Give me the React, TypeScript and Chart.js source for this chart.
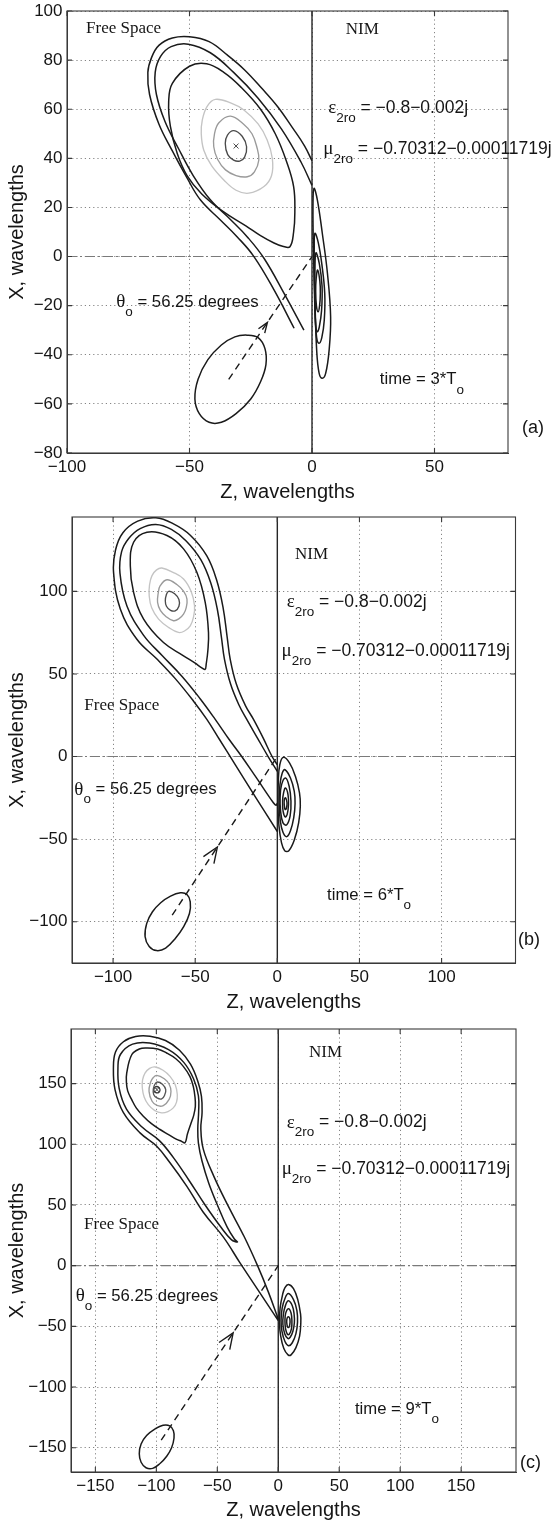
import React, { useEffect, useRef } from 'react';
import { Chart, registerables } from 'chart.js';

Chart.register(...registerables);

type P = [number, number];

const SANS = '"Liberation Sans", Arial, Helvetica, sans-serif';
const SERIF = '"Liberation Serif", "Times New Roman", serif';
const INK = '#1a1a1a';

// ---------------- panel (a) ----------------
const A_X_RANGE: P = [-100, 80];
const A_Y_RANGE: P = [-80, 100];
const A_X_TICKS = [-100, -50, 0, 50];
const A_Y_TICKS = [-80, -60, -40, -20, 0, 20, 40, 60, 80, 100];

const A_OUTER1: P[] = [[0,39],[-3,45],[-8,52.5],[-14,61],[-20.5,68.5],[-27.5,76],[-34.5,82],[-42,87.5],[-50,89.5],[-57,89],[-62.5,86],[-65.5,81],[-67,75],[-66.3,66],[-62.5,54],[-57,43],[-51,32],[-45.5,23],[-37.5,15],[-30.5,8],[-23.7,0],[-15.5,-13.6],[-7.3,-29.2]];
const A_OUTER2: P[] = [[0,29],[-4.5,38.5],[-12.5,52],[-22,64.5],[-32,75],[-41.5,83],[-50.5,86.5],[-57.5,85.5],[-61.8,81.5],[-64,75],[-63.5,66],[-60,55],[-54.5,44],[-48.5,33],[-41.4,23],[-33.2,15],[-26.4,8],[-19.6,-0.7],[-11.4,-15],[-3.3,-30]];
const A_INNER: P[] = [[-57,70.5],[-50,77.5],[-43,78.5],[-36,75],[-29,69],[-21,60],[-15,50],[-10.5,39],[-7.5,28.5],[-7,18],[-7.5,10],[-9,4],[-12,4.2],[-15.5,5.5],[-21,8.5],[-27,12.5],[-36.5,18.5],[-45,25.5],[-51,33],[-55,42],[-57.8,53],[-58.5,63]];
const A_GRAY1: P[] = [[-39.4,64],[-33,62.5],[-27.8,59.7],[-22,54],[-18.3,47.5],[-16.2,40],[-16.5,33],[-19.6,28.5],[-25.8,25.8],[-31,27],[-36,31.2],[-41,37],[-44.2,43.4],[-45.2,50],[-44.8,55.5],[-42.8,61.2]];
const A_GRAY2: P[] = [[-33.3,57.2],[-28,54],[-24.5,50],[-22.5,44.5],[-21.7,39.3],[-23.5,34.5],[-26.4,32.5],[-31,33],[-35.3,35.3],[-38.5,39.5],[-40.1,44.7],[-39.8,50],[-38,54.5]];
const A_GRAY3: P[] = [[-31.9,51.3],[-28.5,49],[-26.7,44.7],[-27.5,40.5],[-29.5,38.9],[-32,39.3],[-34.4,41.5],[-35.4,46],[-34.5,49.5]];
const A_PEAK: P[] = [[-31, 45]];
const A_NIM1: P[] = [[0.8,27.8],[2.2,23],[4.2,9.5],[6.3,-6.8],[7.6,-24.5],[7,-38],[5.6,-47.5],[4.2,-49.6],[2.9,-47.5],[1.9,-38],[1.2,-17.7],[0.6,2.7],[0.4,20.3]];
const A_NIM2: P[] = [[1.2,9.5],[2.6,5.5],[4,-3],[5.2,-15],[5,-26],[4,-33],[2.9,-35.3],[1.9,-33],[1.3,-24],[0.9,-10],[0.9,3]];
const A_NIM3: P[] = [[1.6,1.5],[3,-3],[4.1,-12],[3.9,-22],[3,-28.5],[2.2,-30.6],[1.5,-28],[1.2,-18],[1.2,-6]];
const A_NIM4: P[] = [[2.3,-5.5],[3.2,-10],[3.4,-15],[3.1,-20],[2.5,-22.5],[1.8,-20],[1.5,-14],[1.7,-9]];
const A_BEAM: P[] = [[-26.5,-32],[-22,-33],[-19.2,-37.5],[-18.8,-44],[-21,-51],[-25,-58],[-31,-64],[-37,-67.5],[-42,-67.5],[-46,-64],[-47.8,-58],[-46.5,-50],[-42.5,-42],[-37,-36],[-31.5,-32.7]];
const A_PATH: P[] = [[-34,-50],[0,0]];
const A_HEAD: P[] = [[-19.3,-31.2],[-18.2,-26.8],[-21.85,-29.4]];
const A_IFACE: P[] = [[0,-80],[0,100]];
const A_ZERO: P[] = [[-100,0],[80,0]];

// ---------------- panel (b) ----------------
const B_RANGE: P = [-125, 145];
const B_TICKS = [-100, -50, 0, 50, 100];

const B_OUTER1: P[] = [[0,-45.4],[-13,-25],[-26.5,-3.5],[-35.2,10.3],[-42.9,22.5],[-51,33.5],[-62,47],[-73.3,59],[-85.5,71],[-95.6,89.3],[-99.7,111.5],[-98.5,125],[-94,135.5],[-85,142.5],[-74,144.5],[-63.5,141],[-53,134],[-43,121.6],[-37,107],[-33,90],[-30.5,72],[-28.7,59],[-25,44],[-19.5,31],[-14.5,22.5],[-8.5,11],[-3.2,0],[0,-5]];
const B_OUTER2: P[] = [[0,-28.3],[-0.8,-29.5],[-2.4,-28],[-13,-12.5],[-22,0.5],[-29.3,10.3],[-37.8,22.5],[-47,35],[-58,48.5],[-70,61],[-81.5,73.5],[-91.5,91],[-95.8,111],[-94.8,124],[-90.5,132],[-83.5,138],[-74,140.5],[-64.5,137.5],[-55.5,130.5],[-46.5,119],[-40.5,105],[-36.5,89],[-34,72],[-32.2,59],[-28.5,44],[-23.5,31.5],[-18.6,22.5],[-12,11],[-5.6,0],[0,-9]];
const B_INNER: P[] = [[-87.5,129.7],[-79.4,135.8],[-67.2,133.8],[-57.1,125.7],[-49,111.5],[-43.9,93.3],[-41.9,75],[-42.3,64],[-43.3,56],[-44,52.8],[-46.5,54],[-50,56.5],[-57.1,61],[-69.3,69],[-81.4,83.2],[-87.5,99.4],[-89.5,115.5]];
const B_GRAY1: P[] = [[-70.3,114.1],[-63.5,111.5],[-57.1,107.5],[-52.5,100],[-50.4,91.3],[-51,84.5],[-53,79.1],[-56.5,76],[-60.2,75.1],[-66,78],[-72.3,83.2],[-76.5,90],[-78,97.3],[-77.8,104],[-76.3,109.5],[-73.5,113]];
const B_GRAY2: P[] = [[-67.2,107],[-61,104],[-57,100],[-55,95.3],[-55.5,90],[-57.1,86.2],[-60,83.3],[-63.2,82.2],[-67.5,84.5],[-71.2,88.5],[-72.9,93.3],[-72.5,99],[-71.3,103.4]];
const B_GRAY3: P[] = [[-66.2,100],[-62.5,98.5],[-59.9,95],[-59.9,91],[-62.2,88.2],[-65,88.5],[-67.5,91],[-68.2,94.3],[-67.6,97.8]];
const B_NIM1: P[] = [[3.7,-0.5],[7.5,-4],[11,-12],[13.5,-22],[14,-30],[13,-40],[10.5,-50],[7,-57],[4.5,-57],[2.5,-52],[1,-42],[0.4,-30],[0.6,-15],[1.5,-5]];
const B_NIM2: P[] = [[4.7,-8],[8,-13],[10.3,-21],[10.8,-28.5],[10,-37],[8,-45],[5.8,-48.5],[3.5,-46],[1.8,-39],[1.1,-28],[1.6,-17],[3,-10]];
const B_NIM3: P[] = [[5,-13],[7.2,-18],[8.3,-27],[7.8,-36],[5.6,-41.5],[3.4,-40],[2,-33],[1.7,-25],[2.6,-17]];
const B_NIM4: P[] = [[5,-19],[6.5,-23],[6.8,-29],[6,-35],[4.8,-36.5],[3.5,-33],[3.2,-27],[3.8,-22]];
const B_NIM5: P[] = [[5,-25],[5.9,-28],[5.5,-31.5],[4.7,-32],[4.2,-29],[4.3,-26]];
const B_BEAM: P[] = [[-59,-82.5],[-55,-83.5],[-53,-88],[-53.5,-95],[-57,-103],[-62,-110],[-68,-116],[-73.5,-117.5],[-78,-115],[-80.5,-109],[-79.5,-101],[-76,-94],[-71,-88.5],[-65,-84.5]];
const B_PATH: P[] = [[-64,-96],[0,0]];
const B_HEAD: P[] = [[-38.6,-64.9],[-36.5,-54.8],[-45,-60.6]];
const B_IFACE: P[] = [[0,-125],[0,145]];
const B_ZERO: P[] = [[-125,0],[145,0]];

// ---------------- panel (c) ----------------
const C_RANGE: P = [-170, 195];
const C_TICKS = [-150, -100, -50, 0, 50, 100, 150];

const C_OUTER1: P[] = [[0,-45.3],[-16,-21],[-31.5,2.5],[-45,23.5],[-61.5,44],[-75.1,65.6],[-88.8,84.8],[-99.7,98.4],[-113.4,109.4],[-127,126],[-133.9,145],[-135.2,163],[-133.5,176],[-127,184.5],[-117,188.8],[-105.2,189],[-92.5,185.5],[-81,177.5],[-72,166],[-66,152],[-63,139.5],[-62.5,126],[-63.5,113],[-61.5,96],[-53,74],[-41,49],[-28,24],[-17,0],[-8,-22],[0,-44]];
const C_OUTER2: P[] = [[-33.5,19.5],[-36,22],[-42,32],[-49.5,49],[-57,68],[-62.5,86],[-65.5,101],[-66,113],[-65.3,127],[-65.5,140],[-69.5,154],[-77.5,167.5],[-90,178],[-105.5,183.5],[-119.5,182.5],[-129.5,174],[-131.5,163],[-130.5,146],[-124.5,129],[-111.5,114],[-97.5,103],[-86,89],[-73,70],[-60,50],[-46.5,31],[-38.5,21.5]];
const C_INNER: P[] = [[-124.3,158.7],[-120.2,173.8],[-114,178.5],[-107.9,179.3],[-99,178.5],[-91.5,175.2],[-84,170.5],[-77.9,164.2],[-72.5,156],[-69.7,147.7],[-68.3,139],[-68,131.3],[-69.3,124],[-71.5,117.5],[-74.5,108.5],[-76.5,101.2],[-79.5,102.5],[-83.3,104],[-90,108],[-97,112.2],[-104,117],[-110.7,123.1],[-116.5,130],[-120.2,136.8],[-123.5,144],[-124.5,150.5]];
const C_GRAY1: P[] = [[-101,163.7],[-94.5,161],[-88.8,156],[-84.5,149],[-82.8,141],[-83.5,134.5],[-86.1,130],[-90.5,127],[-95.6,125.9],[-101.5,128],[-106.6,132.7],[-110,139],[-111.5,146.4],[-111.3,153],[-109.3,158.7],[-105.5,162.5]];
const C_GRAY2: P[] = [[-99.7,156.8],[-93.5,154],[-89.5,149.5],[-88,143.6],[-89.5,137],[-94.3,131.9],[-99.5,132],[-103.5,135.5],[-106,143.6],[-104.8,151],[-102.5,155]];
const C_GRAY3: P[] = [[-99.2,151.3],[-95,149.5],[-92.3,145],[-93.2,140.5],[-95.6,137.4],[-99.5,138.2],[-102.2,141],[-102.5,145.5],[-101.2,149.5]];
const C_GRAY4: P[] = [[-99.5,147.6],[-97.6,146.5],[-97,144.5],[-98,142.8],[-99.8,142.4],[-101.7,143.5],[-102,145.5],[-101,147.2]];
const C_PEAK: P[] = [[-99.5, 145]];
const C_NIM1: P[] = [[8.5,-15.5],[12.5,-19],[16,-28],[18.3,-40],[18.5,-47],[17.5,-58],[14.5,-67.5],[10.5,-73.5],[8,-73.5],[4.5,-68],[2,-58],[1,-47],[1.5,-35],[3.5,-24],[5.5,-18]];
const C_NIM2: P[] = [[8.3,-23],[12.5,-28],[15.3,-37],[15.8,-46.5],[14.5,-56],[11.5,-63.5],[8.5,-66],[5.5,-62.5],[3,-54],[2.3,-45],[3.2,-35],[5.5,-27]];
const C_NIM3: P[] = [[8.3,-29],[11.5,-33],[13,-40],[13.2,-47],[12,-54],[9.8,-59],[7.8,-60],[5.3,-56],[3.8,-48.5],[4.2,-40],[6,-32.5]];
const C_NIM4: P[] = [[8.3,-35.5],[10.5,-39],[11.2,-46],[10.8,-52],[9,-56.5],[7.5,-56.5],[6,-52],[5.5,-46],[6,-39.5]];
const C_NIM5: P[] = [[8.3,-42],[9.6,-44.5],[9.4,-49],[8.3,-51],[7.2,-49],[7,-44.5]];
const C_BEAM: P[] = [[-89,-132],[-86,-136],[-85.5,-142],[-87.5,-150],[-91.5,-157],[-97,-163],[-103,-167],[-108.5,-166.5],[-112.5,-162],[-114,-155],[-112.5,-147],[-108,-140],[-101,-134.5],[-94.5,-131.5]];
const C_PATH: P[] = [[-96,-143.7],[0,0]];
const C_HEAD: P[] = [[-39.8,-69.1],[-37,-55.4],[-48.6,-63.3]];
const C_IFACE: P[] = [[0,-170],[0,195]];
const C_ZERO: P[] = [[-170,0],[195,0]];

// ---------------- text ----------------
type Kind = 'txt' | 'sym' | 'sub' | 'rom' | 'sml';
type Part = [string, Kind];
interface Note { x: number; y: number; parts: Part[] }

const EPS: Part[] = [['ε', 'sym'], ['2ro', 'sub'], [' = −0.8−0.002j', 'txt']];
const MU: Part[] = [['μ', 'sym'], ['2ro', 'sub'], [' = −0.70312−0.00011719j', 'txt']];
const THETA: Part[] = [['θ', 'sym'], ['o', 'sub'], [' = 56.25 degrees', 'sml']];

const A_NOTES: Note[] = [
  { x: -92.2, y: 93, parts: [['Free Space', 'rom']] },
  { x: 13.8, y: 92.5, parts: [['NIM', 'rom']] },
  { x: 6.6, y: 60.5, parts: EPS },
  { x: 4.6, y: 43.8, parts: MU },
  { x: -79.9, y: -18.5, parts: THETA },
  { x: 27.7, y: -50.2, parts: [['time = 3*T', 'sml'], ['o', 'sub']] },
];
const B_NOTES: Note[] = [
  { x: -117.5, y: 31, parts: [['Free Space', 'rom']] },
  { x: 10.8, y: 122, parts: [['NIM', 'rom']] },
  { x: 5.7, y: 93.5, parts: EPS },
  { x: 2.6, y: 63.8, parts: MU },
  { x: -123.6, y: -20, parts: THETA },
  { x: 30.3, y: -83.8, parts: [['time = 6*T', 'sml'], ['o', 'sub']] },
];
const C_NOTES: Note[] = [
  { x: -159.3, y: 34.1, parts: [['Free Space', 'rom']] },
  { x: 25.2, y: 175.4, parts: [['NIM', 'rom']] },
  { x: 6.9, y: 117.9, parts: EPS },
  { x: 2.8, y: 79.3, parts: MU },
  { x: -166.2, y: -25.1, parts: THETA },
  { x: 62.9, y: -118.7, parts: [['time = 9*T', 'sml'], ['o', 'sub']] },
];

interface Panel {
  top: number; h: number;
  area: { left: number; right: number; top: number; bottom: number };
  xRange: P; yRange: P; xTicks: number[]; yTicks: number[];
  grays: [P[], string][]; loops: P[][]; opens: P[][];
  beam: P[]; path: P[]; head: P[]; iface: P[]; zero: P[]; peak?: P[];
  notes: Note[]; tag: { text: string; x: number; y: number }; titlePad: number;
}

const PANELS: Panel[] = [
  {
    top: 0, h: 510, area: { left: 67, right: 508, top: 11, bottom: 453 },
    xRange: A_X_RANGE, yRange: A_Y_RANGE, xTicks: A_X_TICKS, yTicks: A_Y_TICKS,
    grays: [[A_GRAY1, '#c4c4c4'], [A_GRAY2, '#9a9a9a'], [A_GRAY3, '#4a4a4a']],
    loops: [A_INNER, A_NIM1, A_NIM2, A_NIM3, A_NIM4], opens: [A_OUTER1, A_OUTER2],
    beam: A_BEAM, path: A_PATH, head: A_HEAD, iface: A_IFACE, zero: A_ZERO, peak: A_PEAK,
    notes: A_NOTES, tag: { text: '(a)', x: 522, y: 428 }, titlePad: 6,
  },
  {
    top: 510, h: 510, area: { left: 72, right: 515.5, top: 7, bottom: 453 },
    xRange: B_RANGE, yRange: B_RANGE, xTicks: B_TICKS, yTicks: B_TICKS,
    grays: [[B_GRAY1, '#c4c4c4'], [B_GRAY2, '#9a9a9a'], [B_GRAY3, '#4a4a4a']],
    loops: [B_INNER, B_NIM1, B_NIM2, B_NIM3, B_NIM4, B_NIM5], opens: [B_OUTER1, B_OUTER2],
    beam: B_BEAM, path: B_PATH, head: B_HEAD, iface: B_IFACE, zero: B_ZERO,
    notes: B_NOTES, tag: { text: '(b)', x: 518, y: 430 }, titlePad: 6,
  },
  {
    top: 1020, h: 506, area: { left: 71, right: 516, top: 9, bottom: 452 },
    xRange: C_RANGE, yRange: C_RANGE, xTicks: C_TICKS, yTicks: C_TICKS,
    grays: [[C_GRAY1, '#c4c4c4'], [C_GRAY2, '#9a9a9a'], [C_GRAY3, '#555555'], [C_GRAY4, '#3a3a3a']],
    loops: [C_INNER, C_OUTER2, C_NIM1, C_NIM2, C_NIM3, C_NIM4, C_NIM5], opens: [C_OUTER1],
    beam: C_BEAM, path: C_PATH, head: C_HEAD, iface: C_IFACE, zero: C_ZERO, peak: C_PEAK,
    notes: C_NOTES, tag: { text: '(c)', x: 520, y: 443 }, titlePad: 4,
  },
];

const toXY = (pts: P[]) => pts.map(([x, y]) => ({ x, y }));

function openDs(pts: P[], color: string, width: number, extra: any = {}) {
  return { data: toXY(pts), borderColor: color, borderWidth: width, showLine: true, pointRadius: 0, pointHoverRadius: 0, tension: 0.4, fill: false, ...extra };
}

function loopDs(pts: P[], color: string, width: number) {
  const n = pts.length;
  const wrapped: P[] = [pts[n - 1], ...pts, pts[0], pts[1]];
  const last = wrapped.length - 1;
  return {
    ...openDs(wrapped, color, width),
    segment: {
      borderColor: (ctx: any) => (ctx.p0DataIndex === 0 || ctx.p1DataIndex === last ? 'rgba(0,0,0,0)' : undefined),
    },
  };
}

function drawNote(ctx: CanvasRenderingContext2D, px: number, py: number, parts: Part[]) {
  let x = px;
  for (const [t, k] of parts) {
    let dy = 0;
    if (k === 'txt') ctx.font = `17.5px ${SANS}`;
    else if (k === 'sml') ctx.font = `16.7px ${SANS}`;
    else if (k === 'sym') ctx.font = `19px ${SERIF}`;
    else if (k === 'sub') { ctx.font = `13.5px ${SANS}`; dy = 10; }
    else ctx.font = `17px ${SERIF}`;
    ctx.fillText(t, x, py + dy);
    x += ctx.measureText(t).width;
  }
}

function makeDecor(c: Panel) {
  return {
    id: 'decor',
    afterDatasetsDraw(chart: any) {
      const { ctx, chartArea: a } = chart;
      const xs = chart.scales.x;
      const ys = chart.scales.y;
      ctx.save();
      ctx.strokeStyle = '#3a3a3a';
      ctx.lineWidth = 1.1;
      ctx.strokeRect(a.left, a.top, a.right - a.left, a.bottom - a.top);
      ctx.beginPath();
      for (const v of c.xTicks) {
        const px = xs.getPixelForValue(v);
        ctx.moveTo(px, a.bottom); ctx.lineTo(px, a.bottom - 5);
        ctx.moveTo(px, a.top); ctx.lineTo(px, a.top + 5);
      }
      for (const v of c.yTicks) {
        const py = ys.getPixelForValue(v);
        ctx.moveTo(a.left, py); ctx.lineTo(a.left + 5, py);
        ctx.moveTo(a.right, py); ctx.lineTo(a.right - 5, py);
      }
      ctx.stroke();
      ctx.fillStyle = '#151515';
      ctx.textBaseline = 'middle';
      ctx.textAlign = 'left';
      for (const n of c.notes) drawNote(ctx, xs.getPixelForValue(n.x), ys.getPixelForValue(n.y), n.parts);
      ctx.font = `18px ${SANS}`;
      ctx.fillText(c.tag.text, c.tag.x, c.tag.y);
      ctx.restore();
    },
  };
}

const fmt = (v: number) => String(v).replace('-', '−');

function buildConfig(c: Panel): any {
  const datasets: any[] = [];
  c.grays.forEach(([pts, col]) => datasets.push(loopDs(pts, col, 1.35)));
  c.loops.forEach((pts) => datasets.push(loopDs(pts, INK, 1.5)));
  c.opens.forEach((pts) => datasets.push(openDs(pts, INK, 1.5)));
  datasets.push(loopDs(c.beam, INK, 1.5));
  datasets.push(openDs(c.path, INK, 1.4, { borderDash: [7, 5], tension: 0 }));
  datasets.push(openDs(c.head, INK, 1.4, { tension: 0 }));
  datasets.push(openDs(c.iface, '#262626', 1.4, { tension: 0 }));
  datasets.push(openDs(c.zero, '#7a7a7a', 1.1, { borderDash: [10, 3, 2, 3], tension: 0 }));
  if (c.peak) {
    datasets.push({ data: toXY(c.peak), showLine: false, pointStyle: 'crossRot', pointRadius: 3.5, pointBorderColor: '#4a4a4a', pointBorderWidth: 1, borderColor: '#4a4a4a' });
  }
  const tickFont = { family: SANS, size: 17 };
  const titleFont = { family: SANS, size: 20, lineHeight: 1.2 };
  const grid = { color: '#858585', lineWidth: 1, drawTicks: false };
  const border = { display: true, color: '#3a3a3a', width: 1, dash: [1.2, 3] };
  return {
    type: 'scatter',
    data: { datasets },
    options: {
      animation: false,
      responsive: false,
      events: [],
      layout: { padding: { top: c.area.top, right: 551 - c.area.right, left: 0, bottom: 0 } },
      plugins: { legend: { display: false }, tooltip: { enabled: false } },
      scales: {
        x: {
          type: 'linear', min: c.xRange[0], max: c.xRange[1],
          afterBuildTicks: (s: any) => { s.ticks = c.xTicks.map((v) => ({ value: v })); },
          afterFit: (s: any) => { s.height = c.h - c.area.bottom; s.paddingLeft = 0; s.paddingRight = 0; },
          ticks: { font: tickFont, color: '#151515', padding: 4, maxRotation: 0, autoSkip: false, callback: (v: number) => fmt(v) },
          grid, border,
          title: { display: true, text: 'Z, wavelengths', font: titleFont, color: '#151515', padding: { top: 0, bottom: c.titlePad } },
        },
        y: {
          type: 'linear', min: c.yRange[0], max: c.yRange[1],
          afterBuildTicks: (s: any) => { s.ticks = c.yTicks.map((v) => ({ value: v })); },
          afterFit: (s: any) => { s.width = c.area.left; s.paddingTop = 0; s.paddingBottom = 0; },
          ticks: { font: tickFont, color: '#151515', padding: 4.5, autoSkip: false, callback: (v: number) => fmt(v) },
          grid, border,
          title: { display: true, text: 'X, wavelengths', font: titleFont, color: '#151515', padding: { top: 5.6, bottom: 0 } },
        },
      },
    },
    plugins: [makeDecor(c)],
  };
}

function PanelChart({ cfg }: { cfg: Panel }) {
  const ref = useRef<HTMLCanvasElement>(null);
  useEffect(() => {
    const chart = new Chart(ref.current as HTMLCanvasElement, buildConfig(cfg));
    return () => chart.destroy();
  }, [cfg]);
  return (
    <canvas
      ref={ref}
      width={551}
      height={cfg.h}
      style={{ position: 'absolute', left: 0, top: cfg.top, width: 551, height: cfg.h }}
    />
  );
}

export default function App() {
  return (
    <div style={{ position: 'absolute', left: 0, top: 0, width: 551, height: 1526, background: '#ffffff', overflow: 'hidden' }}>
      {PANELS.map((p, i) => (
        <PanelChart key={i} cfg={p} />
      ))}
    </div>
  );
}
